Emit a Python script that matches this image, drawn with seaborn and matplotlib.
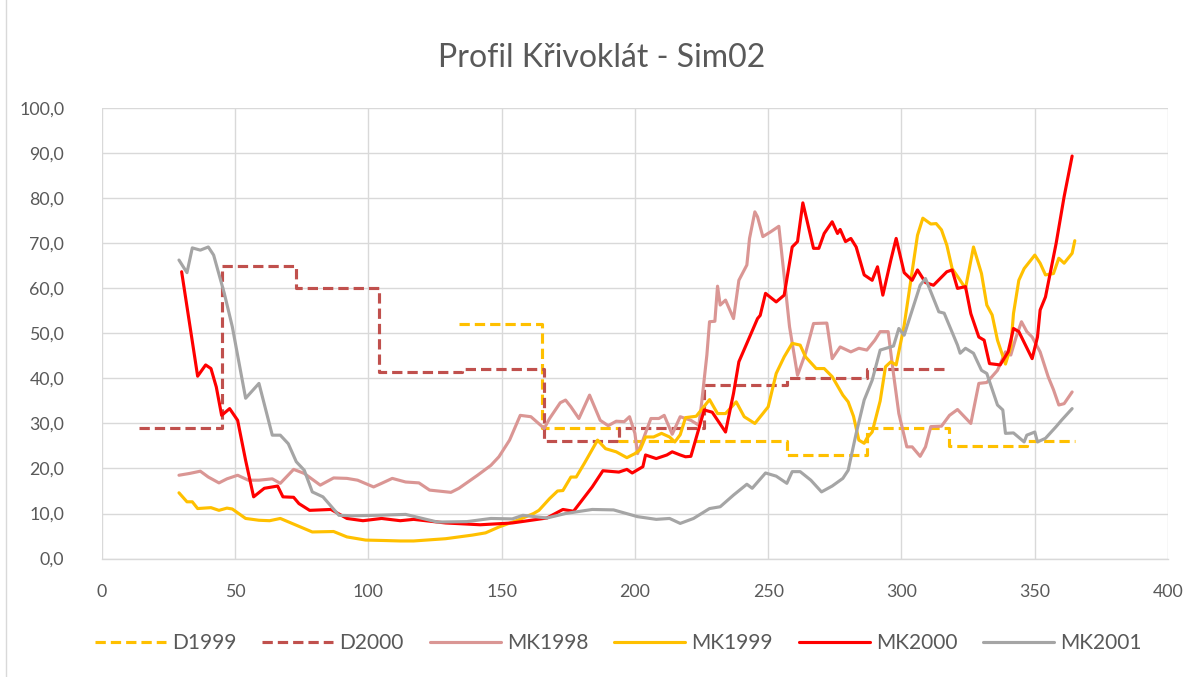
import numpy as np
import pandas as pd
import matplotlib
matplotlib.use("Agg")
import matplotlib.pyplot as plt
import seaborn as sns
from matplotlib.patches import Rectangle

# step series (value valid from given day until next change)
d1999_days = [134, 165, 194, 257, 287, 318, 347, 365]
d1999_vals = [52.0, 29.0, 26.0, 23.0, 29.0, 25.0, 26.0, 26.0]

d2000_days = [14, 45, 73, 104, 135, 166, 194, 226, 257, 287, 318]
d2000_vals = [29.0, 65.0, 60.0, 41.5, 42.0, 26.0, 29.0, 38.5, 40.0, 42.0, 42.0]

# daily simulation curves
mk1998_days = [29, 33, 37, 40, 44, 47, 51, 55, 59, 64, 67, 72, 76, 82, 87, 92, 96, 102, 105, 109,
               114, 119, 123, 131, 134, 141, 146, 149, 153, 157, 161, 166, 168, 172, 174, 176, 179,
               183, 187, 190, 193, 196, 198, 200, 201, 203, 206, 209, 211, 214, 217, 221, 224, 225,
               227, 228, 230, 231, 232, 234, 237, 239, 242, 243, 245, 246, 248, 251, 254, 258, 261,
               264, 267, 272, 274, 277, 281, 284, 287, 290, 292, 295, 297, 299, 302, 304, 307, 309,
               311, 315, 318, 321, 326, 329, 332, 336, 339, 341, 343, 345, 347, 349, 352, 355, 357,
               359, 361, 364]
mk1998_vals = [18.5, 18.9, 19.4, 18.1, 16.8, 17.7, 18.5, 17.4, 17.4, 17.7, 16.7, 19.8, 18.9, 16.3,
               17.9, 17.8, 17.4, 15.9, 16.7, 17.8, 17.0, 16.8, 15.2, 14.7, 15.6, 18.5, 20.7, 22.6,
               26.3, 31.8, 31.5, 28.9, 31.1, 34.6, 35.2, 33.7, 31.1, 36.3, 30.7, 29.5, 30.5, 30.4,
               31.5, 27.8, 23.3, 26.3, 31.1, 31.1, 31.8, 27.6, 31.5, 30.7, 29.6, 34.4, 45.2, 52.6,
               52.7, 60.5, 56.3, 57.4, 53.3, 61.8, 65.2, 71.1, 77.0, 75.9, 71.5, 72.6, 73.8, 51.5,
               40.7, 45.6, 52.2, 52.3, 44.4, 47.0, 45.9, 46.7, 46.3, 48.5, 50.4, 50.4, 41.0, 32.2,
               24.8, 24.8, 22.7, 24.8, 29.3, 29.4, 31.8, 33.1, 30.0, 38.9, 39.1, 41.8, 45.9, 45.2,
               49.2, 52.6, 50.4, 49.2, 45.9, 40.4, 37.5, 34.1, 34.4, 37.0]

mk1999_days = [29, 32, 34, 36, 41, 44, 47, 49, 54, 59, 63, 67, 71, 79, 87, 92, 99, 106, 112, 117,
               129, 139, 144, 149, 156, 162, 164, 168, 171, 173, 176, 178, 181, 186, 189, 193, 197,
               200, 202, 204, 207, 210, 213, 215, 217, 219, 223, 228, 231, 234, 238, 241, 245, 248,
               250, 253, 256, 259, 262, 264, 268, 271, 274, 278, 280, 282, 284, 286, 287, 289, 292,
               294, 296, 298, 301, 304, 306, 308, 311, 313, 315, 317, 319, 322, 324, 327, 330, 332,
               334, 336, 339, 341, 342, 344, 346, 350, 352, 354, 357, 359, 361, 364, 365]
mk1999_vals = [14.6, 12.6, 12.6, 11.1, 11.3, 10.7, 11.2, 11.0, 8.9, 8.5, 8.4, 8.9, 7.9, 5.9, 6.0,
               4.8, 4.1, 4.0, 3.9, 3.9, 4.4, 5.2, 5.7, 7.0, 8.5, 10.0, 10.7, 13.3, 15.0, 15.1, 18.1,
               18.1, 21.1, 26.3, 24.4, 23.7, 22.4, 23.3, 24.2, 27.0, 27.0, 27.8, 27.0, 25.9, 27.5,
               31.3, 31.6, 35.3, 32.2, 32.2, 34.8, 31.5, 30.0, 32.2, 33.7, 41.1, 44.8, 47.8, 47.4,
               44.8, 42.2, 42.2, 40.4, 36.3, 34.8, 31.6, 26.3, 25.6, 26.7, 28.1, 35.0, 42.6, 43.7,
               43.0, 51.8, 63.8, 71.8, 75.6, 74.3, 74.4, 73.0, 69.6, 64.4, 61.8, 60.0, 69.2, 63.3,
               56.3, 54.1, 48.5, 43.2, 47.0, 54.4, 61.8, 64.4, 67.4, 65.6, 63.0, 63.3, 66.7, 65.6,
               67.8, 70.6]

mk2000_days = [30, 36, 39, 41, 43, 45, 48, 51, 54, 57, 61, 66, 68, 72, 74, 78, 86, 92, 98, 105,
               112, 117, 129, 142, 154, 167, 173, 177, 184, 188, 194, 197, 199, 203, 204, 208, 212,
               214, 217, 219, 221, 226, 229, 234, 237, 239, 242, 246, 247, 249, 253, 256, 259, 261,
               263, 267, 269, 271, 274, 276, 277, 279, 281, 283, 286, 289, 291, 293, 296, 298, 301,
               304, 306, 309, 312, 317, 319, 321, 324, 326, 329, 331, 333, 337, 340, 342, 344, 349,
               351, 352, 354, 358, 361, 364]
mk2000_vals = [63.7, 40.5, 43.0, 42.2, 38.1, 31.8, 33.3, 30.7, 21.8, 13.7, 15.6, 16.1, 13.7, 13.6,
               12.2, 10.7, 10.9, 8.9, 8.4, 8.9, 8.4, 8.7, 7.9, 7.5, 7.9, 9.0, 10.9, 10.5, 15.9, 19.5,
               19.2, 19.8, 19.0, 20.4, 23.0, 22.2, 23.0, 23.7, 23.0, 22.6, 22.7, 33.0, 32.5, 28.1,
               36.7, 43.7, 47.8, 53.3, 54.0, 58.9, 57.0, 58.5, 69.2, 70.4, 79.0, 68.9, 68.9, 72.2,
               74.8, 72.2, 73.1, 70.4, 71.1, 69.2, 63.0, 61.8, 64.8, 58.5, 66.3, 71.1, 63.5, 61.8,
               64.1, 61.3, 60.7, 63.7, 64.1, 60.0, 60.4, 54.4, 49.2, 48.5, 43.3, 43.0, 45.9, 51.1,
               50.4, 44.4, 49.2, 55.2, 58.1, 70.0, 80.4, 89.4]

mk2001_days = [29, 32, 34, 37, 40, 42, 46, 49, 54, 59, 64, 67, 70, 73, 76, 79, 83, 89, 94, 103,
               114, 126, 137, 146, 154, 158, 167, 174, 184, 192, 201, 208, 213, 217, 222, 228, 232,
               237, 242, 244, 249, 253, 257, 259, 262, 266, 270, 274, 278, 280, 283, 286, 289, 292,
               297, 299, 301, 307, 309, 314, 316, 321, 322, 324, 327, 330, 332, 336, 338, 339, 342,
               346, 347, 350, 351, 354, 358, 360, 364]
mk2001_vals = [66.3, 63.5, 69.0, 68.5, 69.2, 67.4, 58.9, 51.5, 35.6, 38.9, 27.4, 27.4, 25.5, 21.5,
               19.6, 14.8, 13.7, 9.6, 9.5, 9.6, 9.8, 8.1, 8.2, 8.9, 8.8, 9.6, 9.0, 10.0, 10.9, 10.8,
               9.3, 8.7, 8.9, 7.8, 8.9, 11.1, 11.5, 14.1, 16.5, 15.6, 19.0, 18.3, 16.7, 19.3, 19.3,
               17.4, 14.8, 16.1, 17.8, 19.6, 27.8, 35.2, 39.6, 46.3, 47.2, 51.1, 49.6, 60.7, 62.2,
               54.8, 54.5, 47.4, 45.6, 46.7, 45.6, 41.8, 41.1, 34.1, 33.0, 27.8, 27.9, 25.9, 27.4,
               28.1, 25.9, 26.7, 29.3, 30.7, 33.3]

series = [
    ("D1999", d1999_days, d1999_vals, "#FFC000", True),
    ("D2000", d2000_days, d2000_vals, "#C0504D", True),
    ("MK1998", mk1998_days, mk1998_vals, "#DA9694", False),
    ("MK1999", mk1999_days, mk1999_vals, "#FFC000", False),
    ("MK2000", mk2000_days, mk2000_vals, "#FF0000", False),
    ("MK2001", mk2001_days, mk2001_vals, "#A5A5A5", False),
]

sns.set_theme(style="whitegrid")
plt.rcParams["font.family"] = ["Lato", "DejaVu Sans"]
text_col = "#595959"

fig = plt.figure(figsize=(12.03, 6.77), dpi=100)
ax = fig.add_axes([0.0845, 0.175, 0.8865, 0.665])

for name, days, vals, col, dashed in series:
    df = pd.DataFrame({"day": days, "value": vals})
    kw = {}
    if dashed:
        kw = dict(linestyle=(0, (3.3, 1.6)), drawstyle="steps-post")
    sns.lineplot(data=df, x="day", y="value", ax=ax, color=col, lw=2.25,
                 label=name, **kw)

ax.set_xlim(0, 400)
ax.set_ylim(0, 100)
ax.set_xticks(np.arange(0, 401, 50))
ax.set_yticks(np.arange(0, 101, 10))
ax.set_yticklabels([f"{v:.1f}".replace(".", ",") for v in np.arange(0, 101, 10)])
ax.set_xlabel("")
ax.set_ylabel("")
ax.grid(True, color="#D9D9D9", lw=1.0)
ax.set_facecolor("white")
for s in ["top", "right", "left"]:
    ax.spines[s].set_visible(False)
ax.spines["bottom"].set_color("#D9D9D9")
ax.spines["bottom"].set_linewidth(1.0)
ax.tick_params(axis="both", length=0, labelsize=12.8, colors=text_col)
ax.tick_params(axis="y", pad=27)
ax.tick_params(axis="x", pad=18)

handles, labels = ax.get_legend_handles_labels()
if ax.get_legend() is not None:
    ax.get_legend().remove()
leg = fig.legend(handles, labels, loc="center", bbox_to_anchor=(0.514, 0.05), ncol=6,
                 frameon=False, fontsize=15, handlelength=3.4, handletextpad=0.3,
                 columnspacing=1.25)
for t in leg.get_texts():
    t.set_color(text_col)

fig.text(0.5, 0.915, "Profil Křivoklát - Sim02", ha="center", va="center",
         fontsize=23, color=text_col)

# chart area border (only left edge visible in the crop)
fig.patches.append(Rectangle((6 / 1203, -0.1), 2, 2, transform=fig.transFigure,
                             fill=False, ec="#D9D9D9", lw=1.0))

fig.savefig("out.png", dpi=100)
